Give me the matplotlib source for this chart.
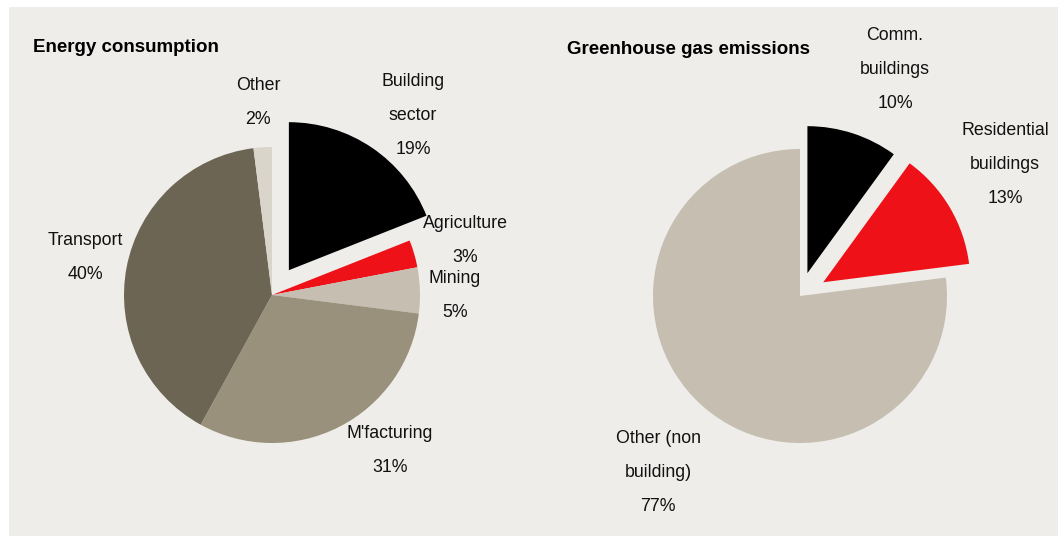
import matplotlib.pyplot as plt
from matplotlib.patches import Rectangle

# Energy consumption shares (clockwise from 12 o'clock)
energy_labels = ["Building\nsector", "Agriculture", "Mining", "M'facturing", "Transport", "Other"]
energy_values = [19, 3, 5, 31, 40, 2]
energy_colors = ["#000000", "#ee1118", "#c6beb1", "#9a917c", "#6d6553", "#d9d5cb"]

# Greenhouse gas emission shares
ghg_labels = ["Comm.\nbuildings", "Residential\nbuildings", "Other (non\nbuilding)"]
ghg_values = [10, 13, 77]
ghg_colors = ["#000000", "#ee1118", "#c6beb1"]

W, H = 1058, 536
BG = "#efedea"
FONT = ["Liberation Sans", "DejaVu Sans"]

fig = plt.figure(figsize=(W / 100, H / 100), dpi=100)
fig.patch.set_facecolor("white")
ax = fig.add_axes([0, 0, 1, 1])

# axes in pixel units, y measured from the bottom
ax.add_patch(Rectangle((9, 0), W - 9, H - 7, facecolor=BG, edgecolor="none", zorder=0))

ax.pie(energy_values, colors=energy_colors, startangle=90, counterclock=False,
       center=(272, H - 295), radius=148, explode=[30, 0, 0, 0, 0, 0],
       frame=True, wedgeprops=dict(linewidth=0))
ax.pie(ghg_values, colors=ghg_colors, startangle=90, counterclock=False,
       center=(800, H - 296), radius=147, explode=[24, 27, 0],
       frame=True, wedgeprops=dict(linewidth=0))

ax.set_xlim(0, W)
ax.set_ylim(0, H)
ax.set_aspect("auto")
ax.axis("off")

# label anchors (centre x, first baseline from top)
energy_pos = [(413, 86), (465, 228), (455, 283), (390, 438), (85, 245), (258, 90)]
ghg_pos = [(895, 40), (1005, 135), (658, 443)]
pitch = 34


def put_labels(labels, values, positions):
    for name, val, (x, y) in zip(labels, values, positions):
        lines = name.split("\n") + [f"{val}%"]
        for i, line in enumerate(lines):
            ax.text(x, H - (y + i * pitch), line, ha="center", va="baseline",
                    fontsize=12.8, family=FONT, color="#111111")


put_labels(energy_labels, energy_values, energy_pos)
put_labels(ghg_labels, ghg_values, ghg_pos)

ax.text(33, H - 52, "Energy consumption", ha="left", va="baseline",
        fontsize=13.5, fontweight="bold", family=FONT)
ax.text(567, H - 54, "Greenhouse gas emissions", ha="left", va="baseline",
        fontsize=13.5, fontweight="bold", family=FONT)

fig.savefig("out.png", dpi=100, facecolor=fig.get_facecolor())
